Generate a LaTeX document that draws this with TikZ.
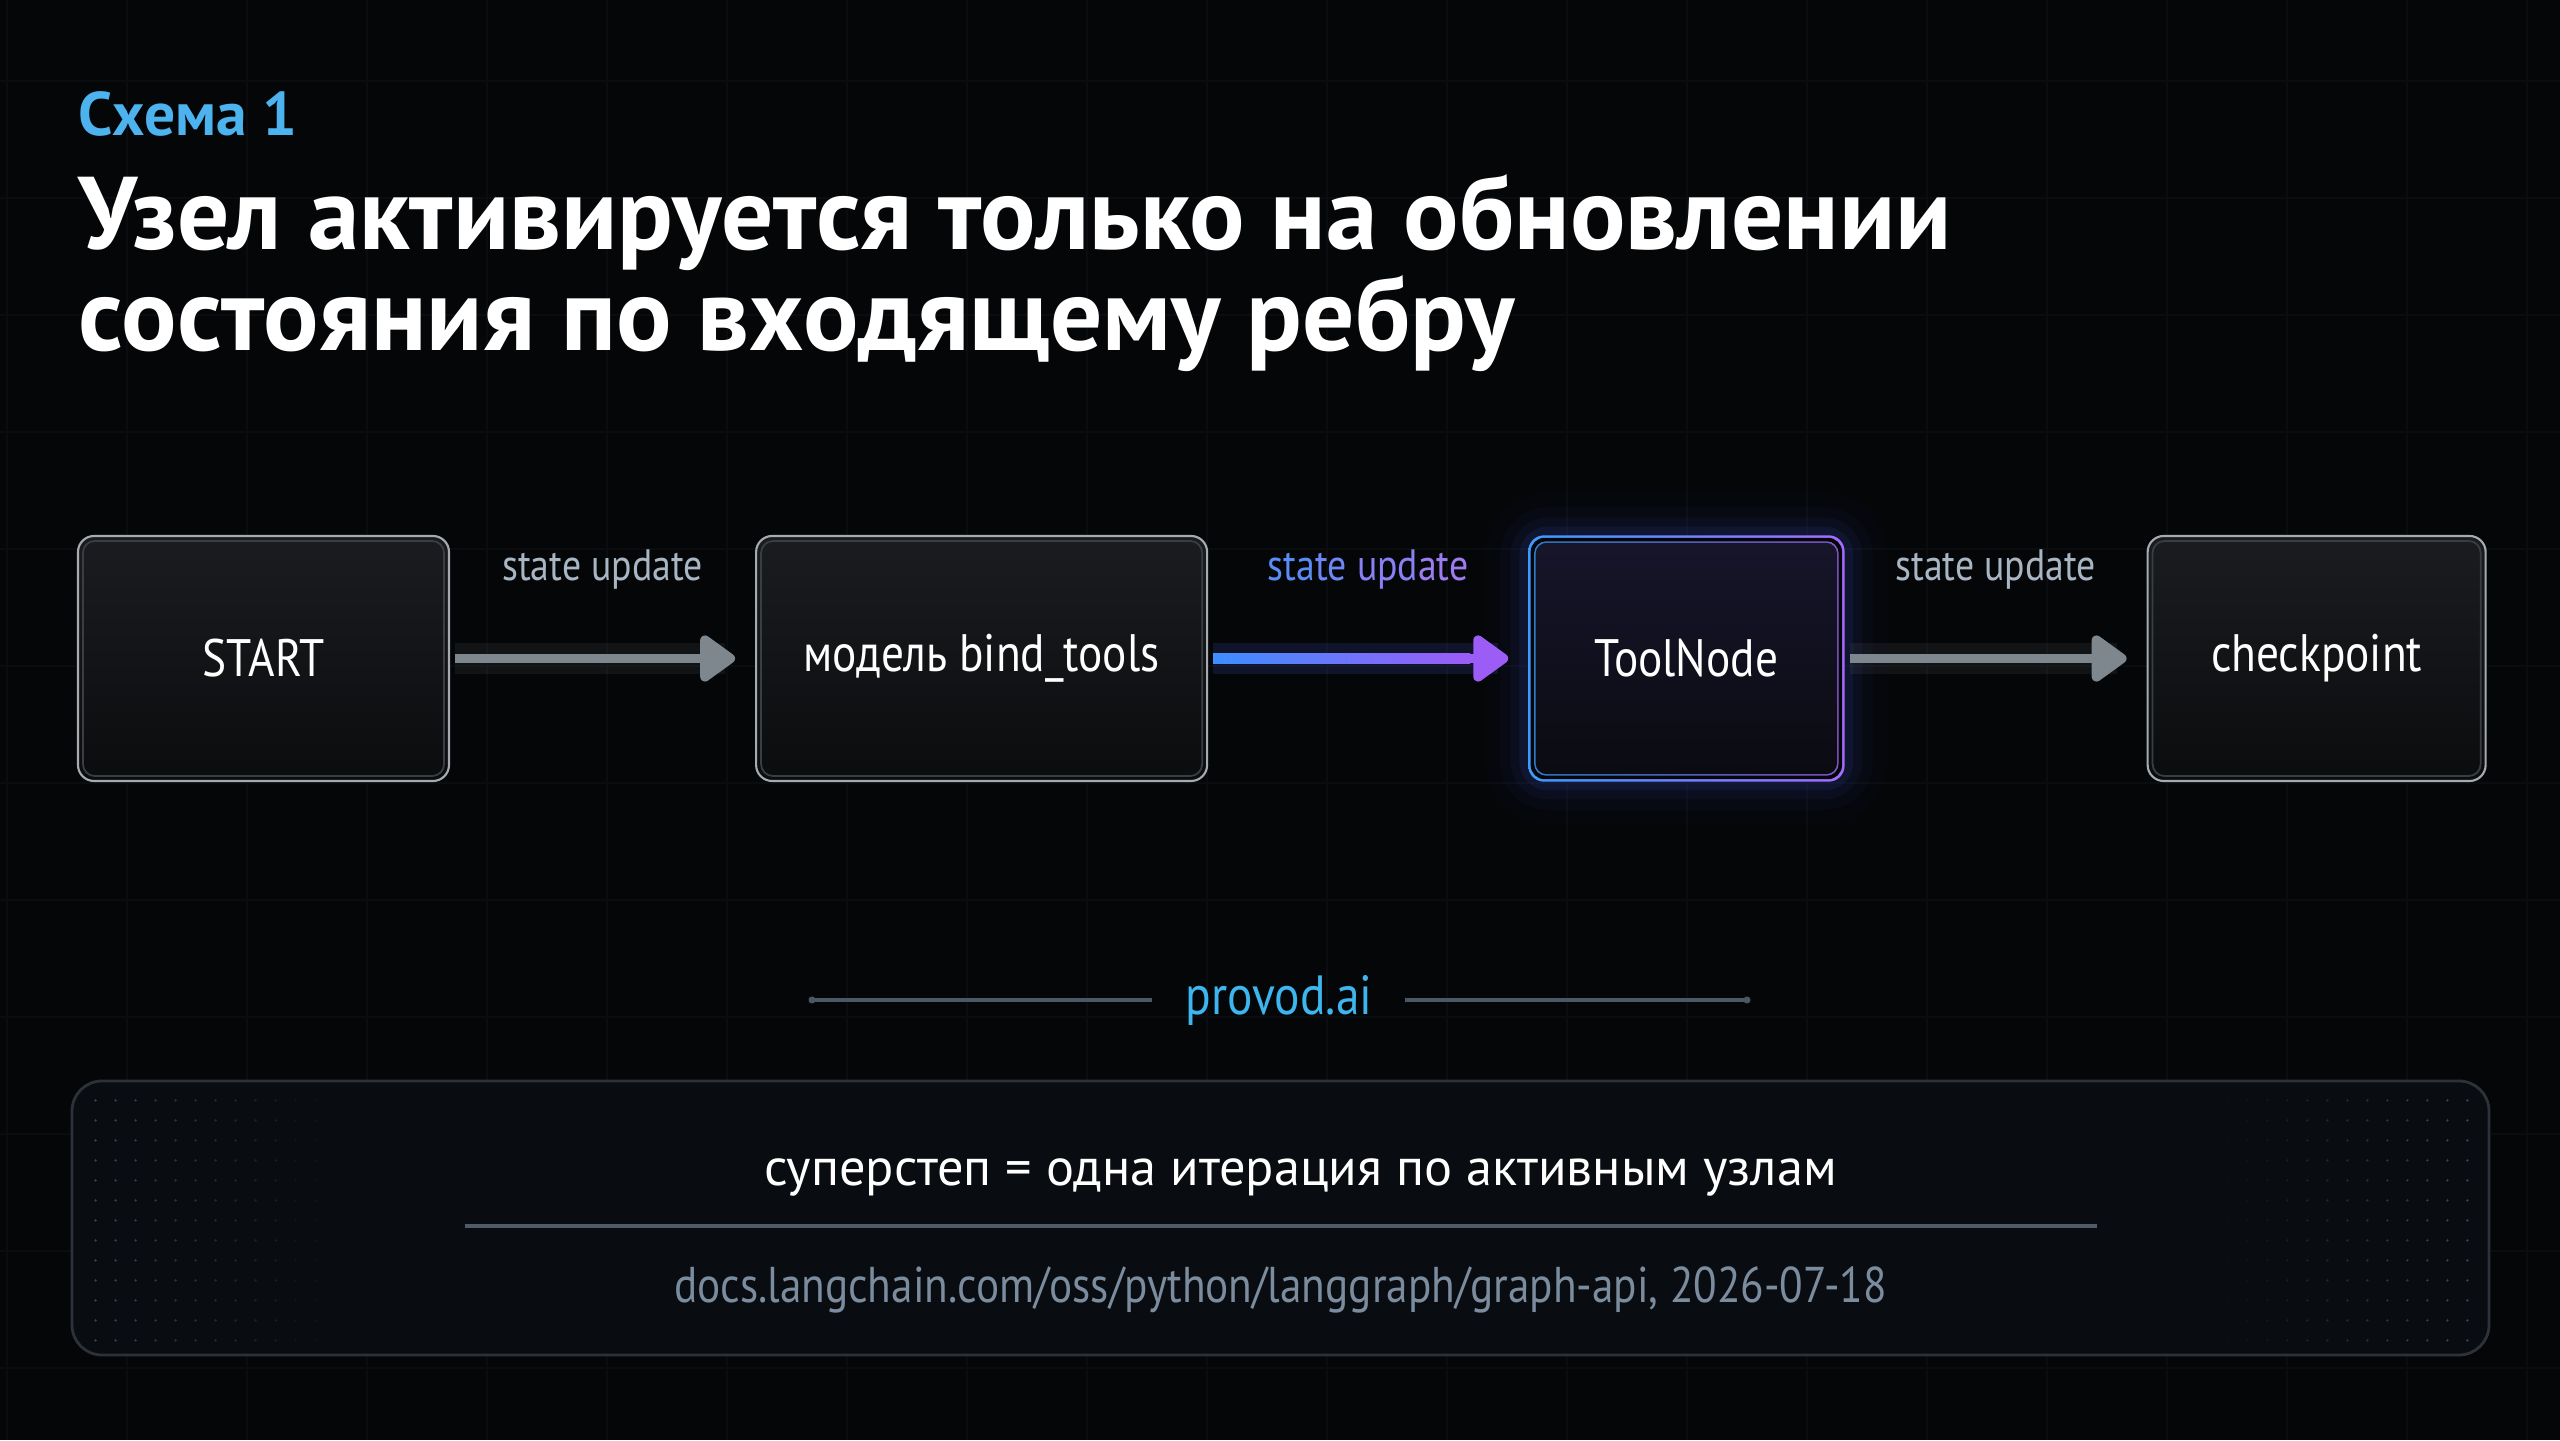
\documentclass[tikz,border=0pt]{standalone}
\usepackage{fontspec}
\setmainfont{PT Sans}[FakeStretch=0.86]
\newfontfamily\headfont{PT Sans}
\usetikzlibrary{arrows.meta,positioning,calc}
\definecolor{bgcol}{HTML}{050608}
\definecolor{gridcol}{HTML}{0A0C10}
\definecolor{kicker}{HTML}{4DB3EE}
\definecolor{boxedge}{HTML}{A6ABB0}
\definecolor{boxinner}{HTML}{3A3E44}
\definecolor{boxtop}{HTML}{1A1C1F}
\definecolor{boxbot}{HTML}{0B0C0E}
\definecolor{arrgray}{HTML}{7E868E}
\definecolor{lblgray}{HTML}{A8B6C4}
\definecolor{arrblue}{HTML}{3D8EFF}
\definecolor{arrpurple}{HTML}{9C5CF6}
\definecolor{toolblue}{HTML}{3C9BFF}
\definecolor{toolpurple}{HTML}{A46CFF}
\definecolor{tooltop}{HTML}{16152A}
\definecolor{toolbot}{HTML}{0B0B12}
\definecolor{toolglow}{HTML}{4F6BFF}
\definecolor{brand}{HTML}{3DB5EE}
\definecolor{footline}{HTML}{4A5866}
\definecolor{panelfill}{HTML}{090C10}
\definecolor{panelline}{HTML}{2B323A}
\definecolor{divline}{HTML}{505B66}
\definecolor{srcgray}{HTML}{7B8C9E}
\definecolor{dotcol}{HTML}{46525E}
\definecolor{lblA}{HTML}{5A8CF6}
\definecolor{lblB}{HTML}{6F86F6}
\definecolor{lblC}{HTML}{8880F3}
\definecolor{lblD}{HTML}{9C7CF0}
\pgfdeclarelayer{background}
\pgfsetlayers{background,main}

\begin{document}
\begin{tikzpicture}[
  every node/.style={inner sep=0pt},
  box/.style={draw=boxedge,line width=0.6pt,rounded corners=0.16cm,top color=boxtop,bottom color=boxbot,minimum height=2.45cm,text=white,font=\fontsize{15}{18}\selectfont},
  toolbox/.style={minimum height=2.45cm,text=white,font=\fontsize{15}{18}\selectfont},
  innerline/.style={draw=boxinner,line width=0.5pt,rounded corners=0.12cm},
  flow/.style={-{Triangle[width=15pt,length=11pt,round]},line width=2.8pt,shorten <=0.05cm,shorten >=0.2cm},
  glow/.style={line width=9pt,opacity=0.10,shorten <=0.05cm,shorten >=0.3cm},
  lbl/.style={font=\fontsize{12.5}{15}\selectfont,text=lblgray},
  panelbox/.style={draw=panelline,fill=panelfill,line width=0.8pt,rounded corners=0.3cm}
]
\useasboundingbox (0,0) rectangle (25.6,14.4);
\begin{pgfonlayer}{background}
  \fill[bgcol] (0,0) rectangle (25.6,14.4);
  \draw[gridcol,line width=0.5pt,xstep=1.2,ystep=1.17,shift={(0.07,0.72)}] (-0.07,-0.72) grid (25.6,13.7);
\end{pgfonlayer}

% heading
\node[anchor=base west,text=kicker,font=\headfont\fontsize{17.5}{20}\selectfont\bfseries] (kick) at (0.78,13.04) {Схема 1};
\node[anchor=base west,text=white,font=\headfont\fontsize{29.4}{34}\selectfont\bfseries] (title1) at (0.78,11.90) {Узел активируется только на обновлении};
\node[anchor=base west,text=white,font=\headfont\fontsize{29.4}{34}\selectfont\bfseries] (title2) at ([yshift=-1.01cm]title1.base west) {состояния по входящему ребру};

% graph nodes
\node[box,minimum width=3.71cm] (start) at (2.635,7.815) {START};
\node[box,minimum width=4.51cm,right=3.05cm of start] (model) {модель bind\_tools};
\node[toolbox,minimum width=3.15cm,right=3.2cm of model] (tool) {ToolNode};
\node[box,minimum width=3.38cm,right=3.02cm of tool] (ckpt) {checkpoint};
\foreach \n in {start,model,ckpt}
  \draw[innerline] ($(\n.south west)+(0.06,0.06)$) rectangle ($(\n.north east)-(0.06,0.06)$);

% active node with glow
\begin{pgfonlayer}{background}
  \foreach \w/\o in {24pt/0.02,16pt/0.03,10pt/0.05,5pt/0.08}
    \draw[toolglow,line width=\w,opacity=\o,rounded corners=0.2cm] (tool.south west) rectangle (tool.north east);
  \shade[left color=toolblue,right color=toolpurple,rounded corners=0.16cm] (tool.south west) rectangle (tool.north east);
  \fill[bgcol,rounded corners=0.14cm] ($(tool.south west)+(0.025,0.025)$) rectangle ($(tool.north east)-(0.025,0.025)$);
  \shade[left color=toolblue!80!black,right color=toolpurple!80!black,rounded corners=0.12cm] ($(tool.south west)+(0.06,0.06)$) rectangle ($(tool.north east)-(0.06,0.06)$);
  \shade[top color=tooltop,bottom color=toolbot,rounded corners=0.11cm] ($(tool.south west)+(0.075,0.075)$) rectangle ($(tool.north east)-(0.075,0.075)$);
\end{pgfonlayer}

% connectors
\draw[glow,arrgray] (start) -- (model);
\draw[flow,arrgray] (start) -- node[lbl,yshift=0.89cm] (l1) {state update} (model);
\draw[glow,toolglow,opacity=0.14] (model) -- (tool);
\draw[flow,arrpurple] (model) -- node[lbl,yshift=0.89cm] (l2) {\textcolor{lblA}{sta}\textcolor{lblB}{te} \textcolor{lblC}{upd}\textcolor{lblD}{ate}} (tool);
\shade[left color=arrblue,right color=arrpurple] ($(model.east)+(0.05,-0.049)$) rectangle ($(tool.west)+(-0.58,0.049)$);
\draw[glow,arrgray] (tool) -- (ckpt);
\draw[flow,arrgray] (tool) -- node[lbl,yshift=0.89cm] (l3) {state update} (ckpt);

% brand line
\node[text=brand,font=\fontsize{15.7}{18}\selectfont] (brandtx) at (12.79,4.40) {provod.ai};
\coordinate (bl) at (8.12,4.40);
\coordinate (br) at (17.47,4.40);
\draw[footline,line width=1pt] (bl) -- ([xshift=-0.33cm]brandtx.west |- bl);
\draw[footline,line width=1pt] ([xshift=0.32cm]brandtx.east |- br) -- (br);
\fill[footline] (bl) circle (0.035) (br) circle (0.035);

% bottom panel
\node[panelbox,minimum width=24.17cm,minimum height=2.74cm] (panel) at (12.805,2.22) {};
\foreach \i in {0,...,12}
  \foreach \j in {0,...,12} {
    \pgfmathsetmacro\op{0.85-0.065*\i}
    \fill[dotcol,opacity=\op] ($(panel.south west)+(0.25+0.2*\i,0.16+0.2*\j)$) circle (0.013);
    \fill[dotcol,opacity=\op] ($(panel.south east)+(-0.23-0.2*\i,0.16+0.2*\j)$) circle (0.013);
  }
\node[text=white,font=\headfont\fontsize{14.9}{18}\selectfont] (stepline) at ([xshift=0.2cm,yshift=0.41cm]panel.center) {суперстеп = одна итерация по активным узлам};
\draw[divline,line width=1.1pt] ($(panel.center)+(-8.16,-0.08)$) -- ($(panel.center)+(8.16,-0.08)$);
\node[text=srcgray,font=\fontsize{14.3}{17}\selectfont] (src) at ([yshift=-0.72cm]panel.center) {docs.langchain.com/oss/python/langgraph/graph-api, 2026-07-18};
\end{tikzpicture}
\end{document}
